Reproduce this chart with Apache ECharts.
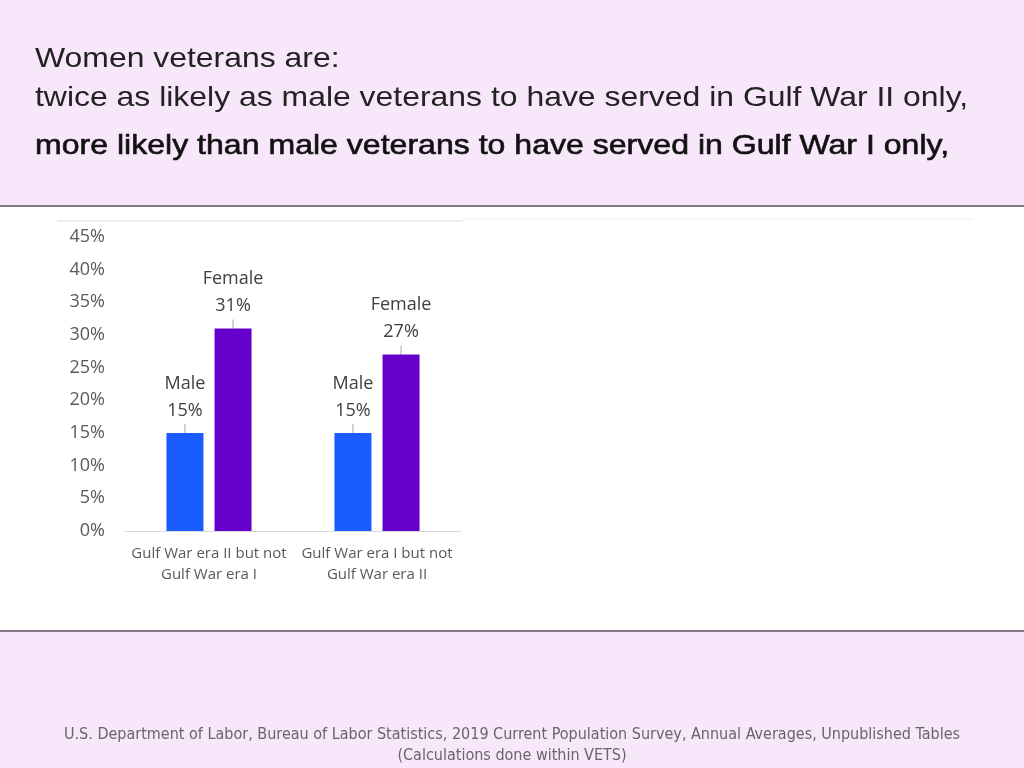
<!DOCTYPE html>
<html><head><meta charset="utf-8">
<script src="https://cdn.jsdelivr.net/npm/echarts@6/dist/echarts.min.js"></script>
<style>html,body{margin:0;padding:0;background:#fff}#c{width:1024px;height:768px}</style>
</head><body><div id="c"></div>
<script>
const categories = ['Gulf War era II but not\nGulf War era I', 'Gulf War era I but not\nGulf War era II'];
const maleValues = [15, 15];
const femaleValues = [31, 27];
const yTicks = ['0%','5%','10%','15%','20%','25%','30%','35%','40%','45%'];
const titleLines = ['Women veterans are:', 'twice as likely as male veterans to have served in Gulf War II only,', 'more likely than male veterans to have served in Gulf War I only,'];
const footerLines = ['U.S. Department of Labor, Bureau of Labor Statistics, 2019 Current Population Survey, Annual Averages, Unpublished Tables', '(Calculations done within VETS)'];

const chart = echarts.init(document.getElementById('c'));
const FF = 'Open Sans, Liberation Sans, sans-serif';
const TF = 'Liberation Sans, Arial, sans-serif';
const lblStyle = {show:true, position:'top', distance:-3, color:'#404040', fontSize:18, lineHeight:27, fontFamily:FF};
function labelFmt(name){ return p => name + '\n' + p.value + '%'; }
chart.setOption({
  animation:false,
  backgroundColor:'#ffffff',
  graphic:[
    {type:'rect', shape:{x:0,y:0,width:1024,height:205}, style:{fill:'#f8e6fb'}, z:-10},
    {type:'rect', shape:{x:0,y:205,width:1024,height:2}, style:{fill:'#857785'}, z:-9},
    {type:'rect', shape:{x:0,y:632,width:1024,height:136}, style:{fill:'#f8e6fb'}, z:-10},
    {type:'rect', shape:{x:0,y:630,width:1024,height:2}, style:{fill:'#857785'}, z:-9},
    {type:'line', shape:{x1:57,y1:221,x2:463,y2:221}, style:{stroke:'#d9d9d9',lineWidth:1}},
    {type:'line', shape:{x1:463,y1:219,x2:973,y2:219}, style:{stroke:'#ececec',lineWidth:1}},
    {type:'text', x:35, y:45, scaleX:1.14, style:{text:titleLines[0], fontSize:28, fill:'#222', fontFamily:TF}},
    {type:'text', x:35, y:84, scaleX:1.14, style:{text:titleLines[1], fontSize:28, fill:'#222', fontFamily:TF}},
    {type:'text', x:35, y:132, scaleX:1.145, style:{text:titleLines[2], fontSize:28, fill:'#111', stroke:'#111', lineWidth:0.6, fontFamily:TF}},
    {type:'text', x:512, y:727, style:{text:footerLines[0], fontSize:16, fill:'#666', align:'center', fontFamily:'Liberation Sans Narrow, DejaVu Sans Condensed, sans-serif'}},
    {type:'text', x:512, y:748, style:{text:footerLines[1], fontSize:16, fill:'#666', align:'center', fontFamily:'Liberation Sans Narrow, DejaVu Sans Condensed, sans-serif'}}
  ],
  grid:{left:125, top:237, width:336, height:294, containLabel:false},
  xAxis:{type:'category', data:categories,
    axisLine:{lineStyle:{color:'#d9d9d9', width:1}}, axisTick:{show:false},
    axisLabel:{color:'#595959', fontSize:15, lineHeight:21, margin:12, interval:0, fontFamily:FF}},
  yAxis:{type:'value', min:0, max:45, interval:5,
    axisLine:{show:false}, axisTick:{show:false}, splitLine:{show:false},
    axisLabel:{color:'#595959', fontSize:18, margin:20, fontFamily:FF, formatter: v => yTicks[v/5]}},
  series:[
    {type:'bar', name:'Male', data:maleValues, barWidth:37, barGap:'30%', itemStyle:{color:'#1a5cff'},
      label:Object.assign({}, lblStyle, {formatter:labelFmt('Male')}),
      labelLayout:{dy:-12}, labelLine:{show:true, lineStyle:{color:'#a6a6a6', width:1}}},
    {type:'bar', name:'Female', data:femaleValues, barWidth:37, barGap:'30%', itemStyle:{color:'#6600cc'},
      label:Object.assign({}, lblStyle, {formatter:labelFmt('Female')}),
      labelLayout:{dy:-12}, labelLine:{show:true, lineStyle:{color:'#a6a6a6', width:1}}}
  ]
});
</script></body></html>
